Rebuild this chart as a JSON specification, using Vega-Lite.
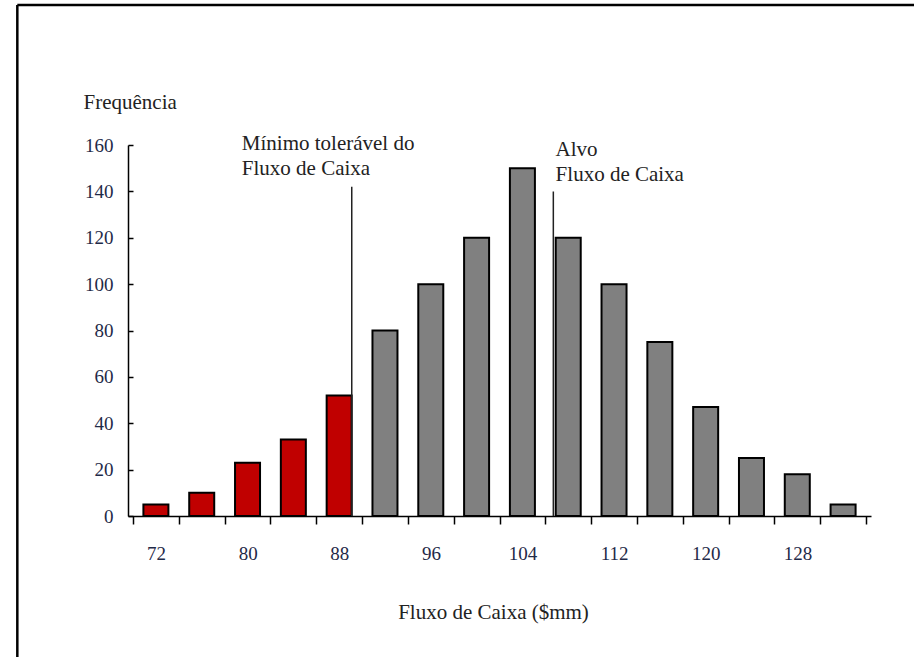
{
  "$schema": "https://vega.github.io/schema/vega-lite/v6.json",
  "width": 743,
  "height": 371,
  "autosize": "none",
  "padding": {"left": 128, "top": 145, "right": 43, "bottom": 141},
  "background": "white",
  "config": {"view": {"stroke": null}, "font": "Liberation Serif"},
  "layer": [
    {
      "data": {"values": [
        {"fluxo": 72, "freq": 5, "zona": "abaixo"},
        {"fluxo": 76, "freq": 10, "zona": "abaixo"},
        {"fluxo": 80, "freq": 23, "zona": "abaixo"},
        {"fluxo": 84, "freq": 33, "zona": "abaixo"},
        {"fluxo": 88, "freq": 52, "zona": "abaixo"},
        {"fluxo": 92, "freq": 80, "zona": "acima"},
        {"fluxo": 96, "freq": 100, "zona": "acima"},
        {"fluxo": 100, "freq": 120, "zona": "acima"},
        {"fluxo": 104, "freq": 150, "zona": "acima"},
        {"fluxo": 108, "freq": 120, "zona": "acima"},
        {"fluxo": 112, "freq": 100, "zona": "acima"},
        {"fluxo": 116, "freq": 75, "zona": "acima"},
        {"fluxo": 120, "freq": 47, "zona": "acima"},
        {"fluxo": 124, "freq": 25, "zona": "acima"},
        {"fluxo": 128, "freq": 18, "zona": "acima"},
        {"fluxo": 132, "freq": 5, "zona": "acima"}
      ]},
      "mark": {"type": "bar", "size": 25, "stroke": "black", "strokeWidth": 2},
      "encoding": {
        "x": {
          "field": "fluxo", "type": "quantitative",
          "scale": {"domain": [70, 134], "nice": false, "zero": false},
          "axis": {
            "values": [70,74,78,82,86,90,94,98,102,106,110,114,118,122,126,130,134],
            "labelExpr": "(datum.value % 8 == 6 && datum.value < 130) ? format(datum.value + 2, 'd') : ''",
            "labelOverlap": false,
            "labelOffset": 23,
            "tickSize": 8, "tickColor": "black", "tickWidth": 1.5,
            "domainColor": "black", "domainWidth": 1.5,
            "labelFontSize": 19, "labelColor": "#1f2a48", "labelPadding": 20,
            "labelFont": "Liberation Serif",
            "grid": false,
            "title": "Fluxo de Caixa  ($mm)",
            "titleFont": "Liberation Serif", "titleFontSize": 21, "titleFontWeight": "normal",
            "titleColor": "#222222", "titleBaseline": "alphabetic", "titleAlign": "center",
            "titleX": 365, "titleY": 102
          }
        },
        "y": {
          "field": "freq", "type": "quantitative",
          "scale": {"domain": [0, 160], "nice": false},
          "axis": {
            "values": [0,20,40,60,80,100,120,140,160],
            "tickSize": -5, "tickColor": "black", "tickWidth": 1.5,
            "domainColor": "black", "domainWidth": 1.5,
            "labelFontSize": 19, "labelColor": "#1f2a48", "labelPadding": 20,
            "labelFont": "Liberation Serif",
            "grid": false,
            "title": "Frequência",
            "titleFont": "Liberation Serif", "titleFontSize": 21, "titleFontWeight": "normal",
            "titleColor": "#222222", "titleAngle": 0, "titleAlign": "left", "titleBaseline": "alphabetic",
            "titleX": -45, "titleY": -37
          }
        },
        "color": {
          "field": "zona", "type": "nominal",
          "scale": {"domain": ["abaixo", "acima"], "range": ["#C00000", "#808080"]},
          "legend": null
        }
      }
    },
    {
      "data": {"values": [
        {"pos": 89.1, "topo": 142, "base": 0},
        {"pos": 106.7, "topo": 140, "base": 0}
      ]},
      "mark": {"type": "rule", "color": "#222222", "strokeWidth": 1.5},
      "encoding": {
        "x": {"field": "pos", "type": "quantitative"},
        "y": {"field": "topo", "type": "quantitative"},
        "y2": {"field": "base"}
      }
    },
    {
      "data": {"values": [
        {"pos": 79.5, "alt": 157.8, "rotulo": ["Mínimo tolerável do", "Fluxo de Caixa"]},
        {"pos": 106.9, "alt": 155.2, "rotulo": ["Alvo", "Fluxo de Caixa"]}
      ]},
      "mark": {"type": "text", "align": "left", "baseline": "alphabetic", "fontSize": 21, "lineHeight": 25, "color": "#222222", "font": "Liberation Serif"},
      "encoding": {
        "x": {"field": "pos", "type": "quantitative"},
        "y": {"field": "alt", "type": "quantitative"},
        "text": {"field": "rotulo"}
      }
    },
    {
      "data": {"values": [{}]},
      "mark": {"type": "rule", "color": "black", "strokeWidth": 2.5},
      "encoding": {
        "x": {"datum": 59.9, "type": "quantitative"},
        "y": {"datum": 220.4, "type": "quantitative"},
        "y2": {"datum": -70}
      }
    },
    {
      "data": {"values": [{}]},
      "mark": {"type": "rule", "color": "black", "strokeWidth": 2.5},
      "encoding": {
        "x": {"datum": 59.9, "type": "quantitative"},
        "x2": {"datum": 140},
        "y": {"datum": 220.4, "type": "quantitative"}
      }
    }
  ]
}
